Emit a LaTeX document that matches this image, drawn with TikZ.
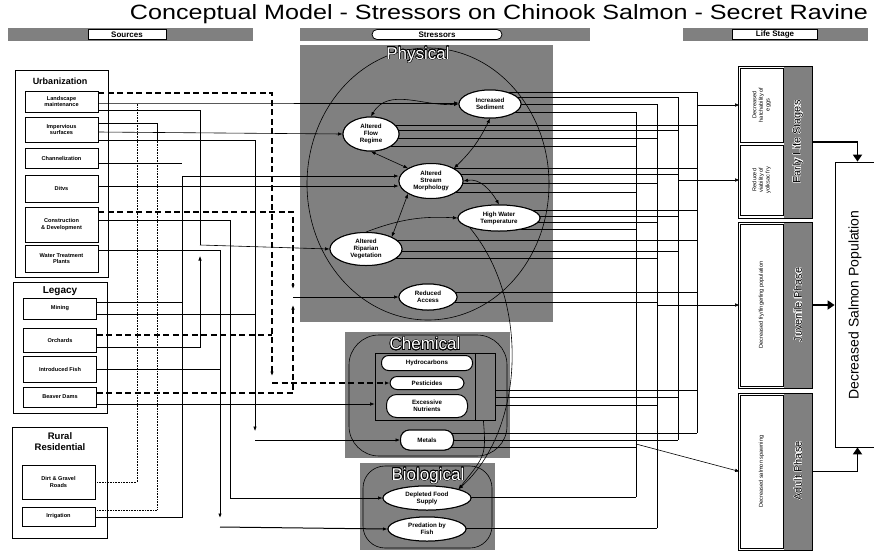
\documentclass[tikz,border=0pt]{standalone}
\usepackage{fontspec}
\setmainfont{Liberation Sans}
\usepackage{contour}
\contourlength{0.6pt}
\usetikzlibrary{arrows.meta,shapes.geometric}
\begin{document}
\begin{tikzpicture}[x=1pt,y=-1pt,
 tex/.style={fill=black!50},
 src/.style={draw, line width=0.9pt, fill=white, font=\bfseries\fontsize{5.6}{6.6}\selectfont, align=center, inner sep=1pt, minimum width=73pt},
 grp/.style={draw, line width=0.8pt},
 str/.style={ellipse, draw, line width=1pt, fill=white, font=\bfseries\fontsize{6.2}{7}\selectfont, align=center, inner sep=0pt},
 pill/.style={draw, line width=1pt, fill=white, rounded corners=7pt, font=\bfseries\fontsize{6.2}{7}\selectfont, align=center, inner sep=0pt},
 ln/.style={line width=0.6pt},
 dt/.style={line width=0.6pt, densely dotted},
 dsh/.style={line width=1.3pt, dash pattern=on 6pt off 3.5pt},
 arr/.style={-{Latex[length=4.5pt,width=3.5pt]}},
 barr/.style={{Latex[length=4.5pt,width=3.5pt]}-{Latex[length=4.5pt,width=3.5pt]}},
 thk/.style={line width=1.8pt, -{Triangle[length=7pt,width=9pt]}},
 lsbox/.style={draw, line width=0.8pt, fill=white, inner sep=0pt},
 hdr/.style={draw, fill=white, line width=0.8pt, font=\bfseries\fontsize{8}{9}\selectfont, inner sep=0pt, minimum height=10pt},
 lbl/.style={font=\fontsize{5.6}{6.6}\selectfont, align=center},
 big/.style={font=\fontsize{17}{17}\selectfont}
]
\useasboundingbox (0,0) rectangle (874,552);

% ---------- title and headers
\node (title) at (499,14) {\resizebox{738pt}{15pt}{Conceptual Model - Stressors on Chinook Salmon - Secret Ravine}};
\fill[tex] (8,28) rectangle (253,41);
\node[hdr, minimum width=78pt] (hsrc) at (127,34.5) {Sources};
\fill[tex] (300,28) rectangle (590,41);
\node[hdr, minimum width=130pt, rounded corners=5pt] (hstr) at (437,34.5) {Stressors};
\fill[tex] (683,28) rectangle (868,41);
\node[hdr, minimum width=85pt] (hls) at (775,34.5) {Life Stage};

% ---------- stressor panels
\fill[tex] (300,45) rectangle (553,322);
\fill[tex] (345,332) rectangle (510,458);
\fill[tex] (360,463) rectangle (495,550);
\draw[ln] (428,184) ellipse [x radius=121, y radius=136];
\draw[ln, rounded corners=30pt] (349,335) rectangle (507,456);
\draw[ln, rounded corners=22pt] (363,466) rectangle (492,548);
\node[big] (phys) at (418,55) {\contour{black}{\textcolor{white}{Physical}}};
\node[big] (chem) at (425,344) {\contour{black}{\textcolor{white}{Chemical}}};
\node[big] (bio) at (428,476) {\contour{black}{\textcolor{white}{Biological}}};

% ---------- source groups
\draw[grp] (15,70) rectangle (108,277);
\node[font=\bfseries\fontsize{9}{10}\selectfont] (gurb) at (60,81) {Urbanization};
\draw[grp] (13,282) rectangle (107,413);
\node[font=\bfseries\fontsize{10}{11}\selectfont] (gleg) at (60,291) {Legacy};
\draw[grp] (12,427) rectangle (107,538);
\node[font=\bfseries\fontsize{9.5}{11}\selectfont, align=center] (grur) at (60,442) {Rural\\Residential};

% ---------- life stages
\fill[tex] (784,66) rectangle (812,218);
\draw[grp] (738,66) rectangle (812,218);
\fill[tex] (784,222) rectangle (812,388);
\draw[grp] (738,222) rectangle (812,388);
\fill[tex] (784,393) rectangle (812,550);
\draw[grp] (738,393) rectangle (812,550);
\node[inner sep=0pt, minimum width=74pt, minimum height=152pt] (early) at (775,142) {};
\node[inner sep=0pt, minimum width=74pt, minimum height=166pt] (juvb) at (775,305) {};
\node[inner sep=0pt, minimum width=74pt, minimum height=157pt] (adub) at (775,471.5) {};
\node[lsbox, minimum width=43pt, minimum height=74pt] (hatch) at (761.5,105) {};
\node[lsbox, minimum width=43pt, minimum height=70pt] (yolk) at (761.5,180) {};
\node[lsbox, minimum width=43pt, minimum height=162pt] (juv) at (761.5,305) {};
\node[lsbox, minimum width=43pt, minimum height=153pt] (adult) at (761.5,471.5) {};
\node[lbl, rotate=90] at (hatch) {Decreased\\hatchability of\\eggs};
\node[lbl, rotate=90] at (yolk) {Reduced\\viability of\\yolksac fry};
\node[lbl, rotate=90] at (juv) {Decreased fry/fingerling population};
\node[lbl, rotate=90] at (adult) {Decreased salmon spawning};
\contourlength{0.3pt}
\node[rotate=90, font=\fontsize{11}{12}\selectfont] at (798,142) {\contour{white}{Early Life Stages}};
\node[rotate=90, font=\fontsize{11}{12}\selectfont] at (798,305) {\contour{white}{Juvenile Phase}};
\node[rotate=90, font=\fontsize{11}{12}\selectfont] at (798,471) {\contour{white}{Adult Phase}};
\node[draw, line width=0.8pt, minimum width=45pt, minimum height=285pt, inner sep=0pt] (sbox) at (857.5,304.5) {};
\node[rotate=90, font=\fontsize{14}{15}\selectfont] (stext) at (855,305) {Decreased Salmon Population};

% ---------- stressor nodes
\node[str, minimum width=62pt, minimum height=28pt] (sed) at (490,104) {Increased\\Sediment};
\node[str, minimum width=56pt, minimum height=34pt] (flow) at (371,134) {Altered\\Flow\\Regime};
\node[str, minimum width=64pt, minimum height=35pt] (morph) at (431,181) {Altered\\Stream\\Morphology};
\node[str, minimum width=82pt, minimum height=26pt] (hwt) at (499,218) {High Water\\Temperature};
\node[str, minimum width=72pt, minimum height=33pt] (rip) at (366,249) {Altered\\Riparian\\Vegetation};
\node[str, minimum width=58pt, minimum height=26pt] (red) at (428,297) {Reduced\\Access};
\node[draw, line width=0.8pt, minimum width=120pt, minimum height=67pt, inner sep=0pt] (brk) at (435,386.5) {};
\draw[line width=0.8pt] (475,353) -- (475,420);
\node[pill, minimum width=91pt, minimum height=15pt] (hyd) at (427,363) {Hydrocarbons};
\node[pill, minimum width=74pt, minimum height=13pt] (pest) at (427,383) {Pesticides};
\node[pill, minimum width=81pt, minimum height=23pt, rounded corners=10pt] (nutr) at (427,406) {Excessive\\Nutrients};
\node[pill, minimum width=53pt, minimum height=20pt, rounded corners=9pt] (metal) at (427,440) {Metals};
\node[str, minimum width=88pt, minimum height=24pt] (food) at (427,498) {Depleted Food\\Supply};
\node[str, minimum width=78pt, minimum height=24pt] (pred) at (427,529) {Predation by\\Fish};

% ---------- source nodes
\node[src, minimum height=21pt] (land) at (61.5,101.5) {Landscape\\maintenance};
\node[src, minimum height=25pt] (imp) at (61.5,129.5) {Impervious\\surfaces};
\node[src, minimum height=20pt] (chan) at (61.5,158) {Channelization};
\node[src, minimum height=27pt] (ditch) at (61.5,188.5) {Ditvs};
\node[src, minimum height=35pt] (cons) at (61.5,224.5) {Construction\\\& Development};
\node[src, minimum height=27pt] (wtp) at (61.5,258.5) {Water Treatment\\Plants};
\node[src, minimum height=21pt] (mine) at (60,308.5) {Mining};
\node[src, minimum height=24pt] (orch) at (60,340) {Orchards};
\node[src, minimum height=26pt] (fish) at (60,369) {Introduced Fish};
\node[src, minimum height=20pt] (beav) at (60,397) {Beaver Dams};
\node[src, minimum height=34pt] (dirt) at (58.5,482) {Dirt \& Gravel\\Roads};
\node[src, minimum height=19pt] (irr) at (58.5,516.5) {Irrigation};

% ---------- left connectors
\coordinate (p1) at (272,376);
\coordinate (p2) at (272,383);
\coordinate (p3) at (293,289);
\coordinate (p4) at (293,305);
\coordinate (p5) at (293,297);
\coordinate (q1) at (200,256);
\coordinate (q2) at (220,518);
\coordinate (q3) at (220,527);
\coordinate (q4) at (200,245);
\coordinate (q5) at (255,431);
\coordinate (q6) at (255,440);
\coordinate (q7) at (182,176);
\draw[dsh, arr] (land.east |- 0,93) -| (p1);
\draw[dsh] (orch.east |- 0,335) -- (272,335);
\draw[dsh, arr] (p2) -- (pest.west);
\draw[dsh, arr] (cons.east |- 0,212) -| (p3);
\draw[dsh, arr] (beav.east |- 0,393) -| (p4);
\draw[ln, arr] (p5) -- (red.west);
\draw[dt] (dirt.east |- 0,482) -- (137,482) -- (137,103);
\draw[dt] (irr.east |- 0,510) -- (157,510) -- (157,140);
\draw[ln] (land.east |- 0,110) -- (200,110) -- (q4);
\draw[ln, arr] (q4) -- (rip.west);
\draw[ln, arr] (orch.east |- 0,347) -- (200,347) -- (q1);
\draw[ln, arr] (imp.east |- 0,132) -- (flow.west);
\draw[ln, arr] (imp.east |- 0,140) -- (255,140) -- (q5);
\draw[ln, arr] (q6) -- (metal.west);
\draw[ln] (mine.east |- 0,314) -- (255,314);
\draw[ln] (mine.east |- 0,302) -- (182,302);
\draw[ln] (chan.east |- 0,163) -- (182,163);
\draw[ln] (irr.east |- 0,517) -- (182,517) -- (q7);
\draw[ln, arr] (q7) -- (morph.west |- q7);
\draw[ln, arr] (ditch.east |- 0,186) -- (morph.west |- 0,186);
\draw[ln, arr] (cons.east |- 0,220) -- (230,220) -- (230,498) -- (food.west);
\draw[line width=1pt, arr] (wtp.east |- 0,250) -- (220,250) -- (q2);
\draw[line width=1pt, arr] (q3) -- (pred.west);
\draw[ln] (fish.east |- 0,369) -- (220,369);
\draw[ln, arr] (beav.east |- 0,404) -- (brk.west |- 0,404);
\draw[ln, arr] (land.east |- 0,103) -- (137,103) -- (sed.west |- 0,103);
\draw[ln] (imp.east |- 0,123) -- (157,123) -- (157,140);

% ---------- physical internal arrows
\draw[ln, barr] (flow.north) to[out=60,in=185] (sed.west);
\draw[ln, barr] (flow.south) -- (morph.north west);
\draw[ln, barr] (sed.south) to[bend left=10] (morph.north east);
\draw[ln, barr] (morph.east) to[out=10,in=120] (hwt.north);
\draw[ln, barr] (morph.south west) -- (rip.north east);
\draw[ln, arr] (rip.north) to[bend left=12] (hwt.west);
\draw[ln, arr] (hwt.south west) .. controls (530,300) and (525,430) .. (food.north east);
\coordinate (b1) at ([xshift=-12pt]brk.south east);
\draw[ln, arr] (b1) .. controls (486,455) .. (food.north east);

% ---------- right connectors (buses A 697, B 678, C 657, D 636)
\foreach \nd/\yy/\bx in {sed/92/697, sed/97/678, sed/104/657, sed/112/636,
  flow/125/697, flow/130/678, flow/138/657, flow/146/636,
  morph/168/697, morph/174/678, morph/183/657, morph/192/636,
  hwt/210/697, hwt/216/678, hwt/222/657, hwt/229/636,
  rip/240/697, rip/251/678, rip/258/657,
  red/292/697, red/302/657,
  metal/433/697, metal/440/678, metal/447/636,
  food/497/636, pred/528/657}
  {\draw[ln] (\nd.center |- 0,\yy) -- (\bx,\yy);}
\foreach \yy/\bx in {390/697, 397/678, 405/657}
  {\draw[ln] (brk.east |- 0,\yy) -- (\bx,\yy);}
\draw[ln] (697,92) -- (697,433);
\draw[ln] (678,97) -- (678,440);
\draw[ln] (657,104) -- (657,528);
\draw[ln] (636,112) -- (636,497);
\draw[ln, arr] (697,105) -- (hatch.west);
\draw[ln, arr] (678,180) -- (yolk.west);
\draw[ln, arr] (657,305) -- (juv.west);
\draw[ln, arr] (636,444) -- (adult.west);

% redraw stressor nodes on top of the lines
\node[str, minimum width=62pt, minimum height=28pt] at (sed) {Increased\\Sediment};
\node[str, minimum width=56pt, minimum height=34pt] at (flow) {Altered\\Flow\\Regime};
\node[str, minimum width=64pt, minimum height=35pt] at (morph) {Altered\\Stream\\Morphology};
\node[str, minimum width=82pt, minimum height=26pt] at (hwt) {High Water\\Temperature};
\node[str, minimum width=72pt, minimum height=33pt] at (rip) {Altered\\Riparian\\Vegetation};
\node[str, minimum width=58pt, minimum height=26pt] at (red) {Reduced\\Access};
\node[pill, minimum width=53pt, minimum height=20pt, rounded corners=9pt] at (metal) {Metals};
\node[str, minimum width=88pt, minimum height=24pt] at (food) {Depleted Food\\Supply};
\node[str, minimum width=78pt, minimum height=24pt] at (pred) {Predation by\\Fish};

% ---------- thick life-stage arrows
\draw[thk] (early.east) -| (sbox.north);
\draw[thk] (juvb.east) -- (sbox.west |- juvb.east);
\draw[thk] (adub.east) -| (sbox.south);
\end{tikzpicture}
\end{document}
